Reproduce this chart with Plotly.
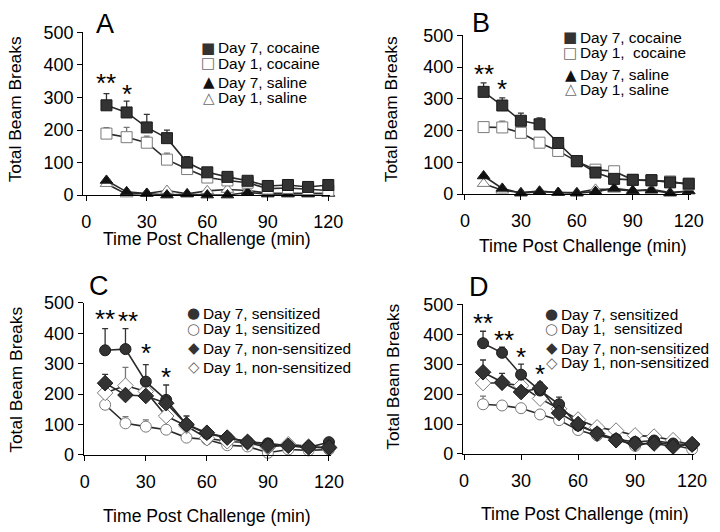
"""
Locomotor activity after cocaine challenge: four-panel figure (A-D).
"""

import plotly.graph_objects as go

# ── Data ───────────────────────────────────────────────────
time_min = [10, 20, 30, 40, 50, 60, 70, 80, 90, 100, 110, 120]

# Panel A
a_d7_coc = [276, 254, 208, 175, 100, 70, 56, 44, 28, 31, 25, 31]
a_d7_coc_err = [36, 35, 40, 25, 18, 6, 5, 4, 4, 4, 4, 5]
a_d1_coc = [189, 178, 161, 109, 80, 54, 45, 38, 20, 22, 18, 14]
a_d1_coc_err = [18, 30, 20, 20, 8, 5, 5, 4, 4, 4, 3, 4]
a_d7_sal = [45, 10, 5, 0, 3, 0, 0, 8, 3, 3, 3, 5]
a_d1_sal = [35, 3, 5, 14, 4, 13, 17, 14, 6, 5, 4, 5]

# Panel B
b_d7_coc = [322, 279, 231, 220, 161, 104, 68, 48, 45, 44, 37, 33]
b_d7_coc_err = [28, 24, 24, 20, 13, 8, 6, 6, 5, 5, 5, 5]
b_d1_coc = [211, 210, 193, 162, 136, 103, 77, 72, 45, 43, 40, 30]
b_d1_coc_err = [14, 20, 8, 6, 8, 6, 6, 6, 5, 5, 5, 5]
b_d7_sal = [57, 18, 3, 8, 5, 3, 8, 18, 11, 12, 3, 10]
b_d1_sal = [33, 12, 5, 10, 5, 5, 15, 15, 10, 15, 5, 10]

# Panel C
c_d7_sen = [344, 348, 241, 181, 100, 70, 57, 43, 38, 30, 25, 42]
c_d7_sen_err = [71, 67, 56, 49, 28, 8, 6, 5, 5, 5, 5, 6]
c_d1_sen = [165, 104, 93, 83, 57, 51, 32, 28, 7, 18, 15, 18]
c_d1_sen_err = [5, 22, 22, 32, 6, 5, 4, 4, 4, 4, 4, 4]
c_d7_non = [236, 197, 194, 170, 100, 73, 57, 43, 30, 30, 25, 25]
c_d7_non_err = [29, 10, 8, 10, 8, 6, 5, 5, 5, 5, 5, 5]
c_d1_non = [204, 228, 209, 128, 95, 55, 45, 40, 25, 35, 28, 22]
c_d1_non_err = [10, 60, 15, 12, 8, 5, 5, 5, 5, 5, 5, 5]

# Panel D
d_d7_sen = [370, 338, 265, 212, 166, 95, 70, 50, 40, 45, 35, 30]
d_d7_sen_err = [40, 19, 35, 27, 24, 15, 6, 5, 5, 5, 5, 5]
d_d1_sen = [166, 162, 153, 132, 113, 80, 62, 50, 27, 40, 30, 16]
d_d1_sen_err = [27, 12, 6, 6, 6, 5, 5, 5, 5, 5, 5, 5]
d_d7_non = [273, 239, 207, 220, 137, 100, 68, 46, 35, 35, 25, 33]
d_d7_non_err = [41, 30, 8, 10, 10, 8, 6, 5, 5, 5, 5, 5]
d_d1_non = [237, 237, 228, 185, 151, 115, 89, 78, 62, 58, 46, 30]
d_d1_non_err = [8, 10, 10, 8, 8, 10, 6, 5, 5, 5, 5, 5]

# Significance stars: (time, level, label)
a_stars = [(10, 352, "**"), (20, 317, "*")]
b_stars = [(10, 384, "**"), (20, 336, "*")]
c_stars = [(10, 452, "**"), (21, 446, "**"), (30, 342, "*"), (40, 263, "*")]
d_stars = [(10, 444, "**"), (21, 389, "**"), (30, 331, "*"), (40, 273, "*")]

x_ticks = [0, 30, 60, 90, 120]
y_ticks = [0, 100, 200, 300, 400, 500]

# ── Style ──────────────────────────────────────────────────
W, H = 720, 532
OFF = 8  # page body margin the plot div sits inside
FONT = "Liberation Sans, Arial, sans-serif"
SYM_FONT = "DejaVu Sans, sans-serif"
DARK = "#333333"
LINE = "#2a2a2a"
OPEN_EDGE = "#7a7a7a"

# series style: (plotly symbol, filled?, legend glyph)
STYLE = {
    "d7_sq": ("square", True, "■"),
    "d1_sq": ("square", False, "□"),
    "d7_tri": ("triangle-up", True, "▲"),
    "d1_tri": ("triangle-up", False, "△"),
    "d7_ci": ("circle", True, "●"),
    "d1_ci": ("circle", False, "○"),
    "d7_di": ("diamond", True, "◆"),
    "d1_di": ("diamond", False, "◇"),
}

# panel layout in (reference) pixels
PANELS = [
    dict(letter="A", xr=[-1.5, 121], xpx=(81, 334), ypx=(192, 23),
         letter_xy=(103, 14), xt_xy=(208, 238), yt_xy=(12, 103),
         leg_text_x=218, leg_rows=[39, 55, 75, 91],
         series=[("d1_tri", a_d1_sal, None), ("d7_tri", a_d7_sal, None),
                 ("d1_sq", a_d1_coc, a_d1_coc_err), ("d7_sq", a_d7_coc, a_d7_coc_err)],
         legend=[("d7_sq", "Day 7, cocaine"), ("d1_sq", "Day 1, cocaine"),
                 ("d7_tri", "Day 7, saline"), ("d1_tri", "Day 1, saline")],
         stars=a_stars),
    dict(letter="B", xr=[-1, 121], xpx=(470, 703), ypx=(191, 26),
         letter_xy=(488, 13), xt_xy=(593, 245), yt_xy=(397, 103),
         leg_text_x=589, leg_rows=[28, 44, 67, 82],
         series=[("d1_tri", b_d1_sal, None), ("d7_tri", b_d7_sal, None),
                 ("d1_sq", b_d1_coc, b_d1_coc_err), ("d7_sq", b_d7_coc, b_d7_coc_err)],
         legend=[("d7_sq", "Day 7, cocaine"), ("d1_sq", "Day 1,\u00a0 cocaine"),
                 ("d7_tri", "Day 7, saline"), ("d1_tri", "Day 1, saline")],
         stars=b_stars),
    dict(letter="C", xr=[-0.5, 121], xpx=(81.5, 334.7), ypx=(462, 304),
         letter_xy=(97, 286), xt_xy=(208, 525), yt_xy=(12, 384),
         leg_text_x=203, leg_rows=[315, 331, 351, 371],
         series=[("d1_sen", c_d1_sen, c_d1_sen_err), ("d1_non", c_d1_non, c_d1_non_err),
                 ("d7_sen", c_d7_sen, c_d7_sen_err), ("d7_non", c_d7_non, c_d7_non_err)],
         legend=[("d7_ci", "Day 7, sensitized"), ("d1_ci", "Day 1, sensitized"),
                 ("d7_di", "Day 7, non-sensitized"), ("d1_di", "Day 1, non-sensitized")],
         stars=c_stars),
    dict(letter="D", xr=[-0.5, 121], xpx=(470, 706.5), ypx=(461, 305.5),
         letter_xy=(486, 288), xt_xy=(595, 523), yt_xy=(398, 381),
         leg_text_x=569, leg_rows=[316, 331, 351, 366],
         series=[("d1_sen", d_d1_sen, d_d1_sen_err), ("d1_non", d_d1_non, d_d1_non_err),
                 ("d7_sen", d_d7_sen, d_d7_sen_err), ("d7_non", d_d7_non, d_d7_non_err)],
         legend=[("d7_ci", "Day 7, sensitized"), ("d1_ci", "Day 1,\u00a0 sensitized"),
                 ("d7_di", "Day 7, non-sensitized"), ("d1_di", "Day 1, non-sensitized")],
         stars=d_stars),
]
ALIAS = {"d1_sen": "d1_ci", "d7_sen": "d7_ci", "d1_non": "d1_di", "d7_non": "d7_di"}


def px_x(v):
    return (v - OFF) / W


def px_y(v):
    return 1 - (v - OFF) / H


fig = go.Figure()
annotations = []

for i, p in enumerate(PANELS, start=1):
    sfx = "" if i == 1 else str(i)
    xref, yref = "x" + sfx, "y" + sfx

    for key, vals, err in p["series"]:
        symbol, filled, _ = STYLE[ALIAS.get(key, key)]
        size = 11 if symbol != "diamond" else 12
        marker = dict(
            symbol=symbol, size=size,
            color=(DARK if symbol != "triangle-up" else "#111") if filled else "white",
            line=dict(color="#1a1a1a" if filled else OPEN_EDGE, width=1),
        )
        ey = None
        if err is not None:
            ey = dict(type="data", symmetric=False, array=err,
                      arrayminus=[0] * len(err), width=3, thickness=1.3,
                      color=DARK if filled else "#777777")
        fig.add_trace(go.Scatter(
            x=time_min, y=vals, mode="lines+markers",
            line=dict(color=LINE, width=1.6),
            marker=marker, error_y=ey, cliponaxis=False,
            xaxis=xref, yaxis=yref, showlegend=False,
        ))

    axis_common = dict(
        showline=True, linecolor="black", linewidth=1.3,
        ticks="outside", ticklen=5, tickwidth=1.3, tickcolor="black",
        showgrid=False, zeroline=False,
        tickfont=dict(family=FONT, size=18, color="black"),
    )
    fig.update_layout(**{
        "xaxis" + sfx: dict(
            domain=[px_x(p["xpx"][0]), px_x(p["xpx"][1])],
            range=p["xr"], tickvals=x_ticks, anchor=yref,
            ticklabelstandoff=5, **axis_common),
        "yaxis" + sfx: dict(
            domain=[px_y(p["ypx"][0]), px_y(p["ypx"][1])],
            range=[0, 500], tickvals=y_ticks, anchor=xref,
            **axis_common),
    })

    # panel letter + axis titles
    lx, ly = p["letter_xy"]
    annotations.append(dict(text=p["letter"], x=px_x(lx), y=px_y(ly),
                            font=dict(family=FONT, size=27)))
    tx, ty = p["xt_xy"]
    annotations.append(dict(text="Time Post Challenge (min)", x=px_x(tx), y=px_y(ty),
                            font=dict(family=FONT, size=17.6)))
    yx, yy = p["yt_xy"]
    annotations.append(dict(text="Total Beam Breaks", x=px_x(yx), y=px_y(yy),
                            textangle=-90, borderpad=0, font=dict(family=FONT, size=17.4)))

    # legend: glyph sits just left of its label
    for (key, label), row in zip(p["legend"], p["leg_rows"]):
        symbol, filled, glyph = STYLE[key]
        gcol = ("#111" if "tri" in key else DARK) if filled else "#6a6a6a"
        annotations.append(dict(text=glyph, x=px_x(p["leg_text_x"] - 1), y=px_y(row),
                                xanchor="right", borderpad=0,
                                font=dict(family=SYM_FONT, size=15, color=gcol)))
        annotations.append(dict(text=label, x=px_x(p["leg_text_x"]), y=px_y(row),
                                xanchor="left", borderpad=0,
                                font=dict(family=FONT, size=15.4)))

    # significance stars
    for sx, sy, lab in p["stars"]:
        annotations.append(dict(text=lab, x=sx, y=sy, xref=xref, yref=yref,
                                yshift=-2, font=dict(family=FONT, size=26)))

for a in annotations:
    a.setdefault("xref", "paper")
    a.setdefault("yref", "paper")
    a.setdefault("xanchor", "center")
    a.setdefault("yanchor", "middle")
    a.setdefault("showarrow", False)
    a["font"].setdefault("color", "black")

fig.update_layout(
    width=W, height=H,
    margin=dict(l=0, r=0, t=0, b=0),
    paper_bgcolor="white", plot_bgcolor="white",
    showlegend=False,
    annotations=annotations,
)

fig.write_html("out.html")
